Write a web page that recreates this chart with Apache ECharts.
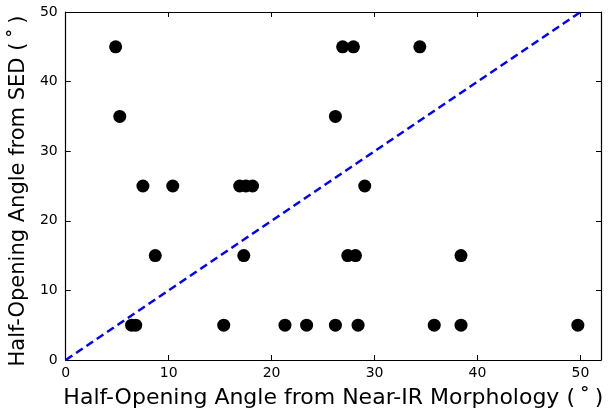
<!DOCTYPE html>
<html>
<head>
<meta charset="utf-8">
<script src="https://cdn.jsdelivr.net/npm/echarts@6/dist/echarts.min.js"></script>
<style>
html,body{margin:0;padding:0;background:#fff;}
#chart{width:608px;height:420px;}
</style>
</head>
<body>
<div id="chart"></div>
<script>
var morphAngle = [4.85, 5.25, 7.5, 10.4, 16.9, 17.5, 18.15, 26.9, 27.95, 34.4, 26.2, 29.05,
                  8.7, 17.3, 27.4, 28.15, 38.4,
                  6.4, 6.8, 15.35, 21.3, 23.4, 26.2, 28.4, 35.8, 38.4, 49.75];
var sedAngle = [45, 35, 25, 25, 25, 25, 25, 45, 45, 45, 35, 25,
                15, 15, 15, 15, 15,
                5, 5, 5, 5, 5, 5, 5, 5, 5, 5];
var oneToOneX = [0, 50];
var oneToOneY = [0, 50];
var xTitle = 'Half-Opening Angle from Near-IR Morphology (\u2009˚\u2009)';
var yTitle = 'Half-Opening Angle from SED (\u2009˚\u2009)';

var points = morphAngle.map(function (x, i) { return [x, sedAngle[i]]; });
var diag = oneToOneX.map(function (x, i) { return [x, oneToOneY[i]]; });

var font = 'DejaVu Sans';
var axisCommon = {
  type: 'value',
  interval: 10,
  splitLine: { show: false },
  axisLine: { show: true, onZero: false, lineStyle: { color: '#000', width: 1.2 } },
  axisTick: { show: true, inside: true, length: 5, lineStyle: { color: '#000', width: 1 } }
};
function ax(extra) { return Object.assign({}, JSON.parse(JSON.stringify(axisCommon)), extra); }

var chart = echarts.init(document.getElementById('chart'), null, { renderer: 'canvas' });
chart.setOption({
  animation: false,
  backgroundColor: '#fff',
  grid: { left: 65.5, right: 7, top: 12, bottom: 60, containLabel: false },
  xAxis: [
    ax({ position: 'bottom', min: 0, max: 52,
      name: xTitle, nameLocation: 'middle', nameGap: 27,
      nameTextStyle: { fontFamily: font, fontSize: 22, color: '#000' },
      axisLabel: { fontFamily: font, fontSize: 14, color: '#000', margin: 6, showMaxLabel: false } }),
    ax({ position: 'top', min: 0, max: 52, axisLabel: { show: false } })
  ],
  yAxis: [
    ax({ position: 'left', min: 0, max: 50,
      name: yTitle, nameLocation: 'middle', nameGap: 30, nameRotate: 90,
      nameTextStyle: { fontFamily: font, fontSize: 21, color: '#000', padding: [0, 10, 0, 0] },
      axisLabel: { fontFamily: font, fontSize: 14, color: '#000', margin: 8, padding: [5, 0, 0, 0] } }),
    ax({ position: 'right', min: 0, max: 50, axisLabel: { show: false } })
  ],
  series: [
    {
      type: 'line',
      data: diag,
      symbol: 'none',
      lineStyle: { color: '#0000ff', width: 2.5, type: [8, 4.5] },
      z: 2
    },
    {
      type: 'scatter',
      data: points,
      symbol: 'circle',
      symbolSize: 13,
      itemStyle: { color: '#000', opacity: 1 },
      z: 3
    }
  ]
});
</script>
</body>
</html>
